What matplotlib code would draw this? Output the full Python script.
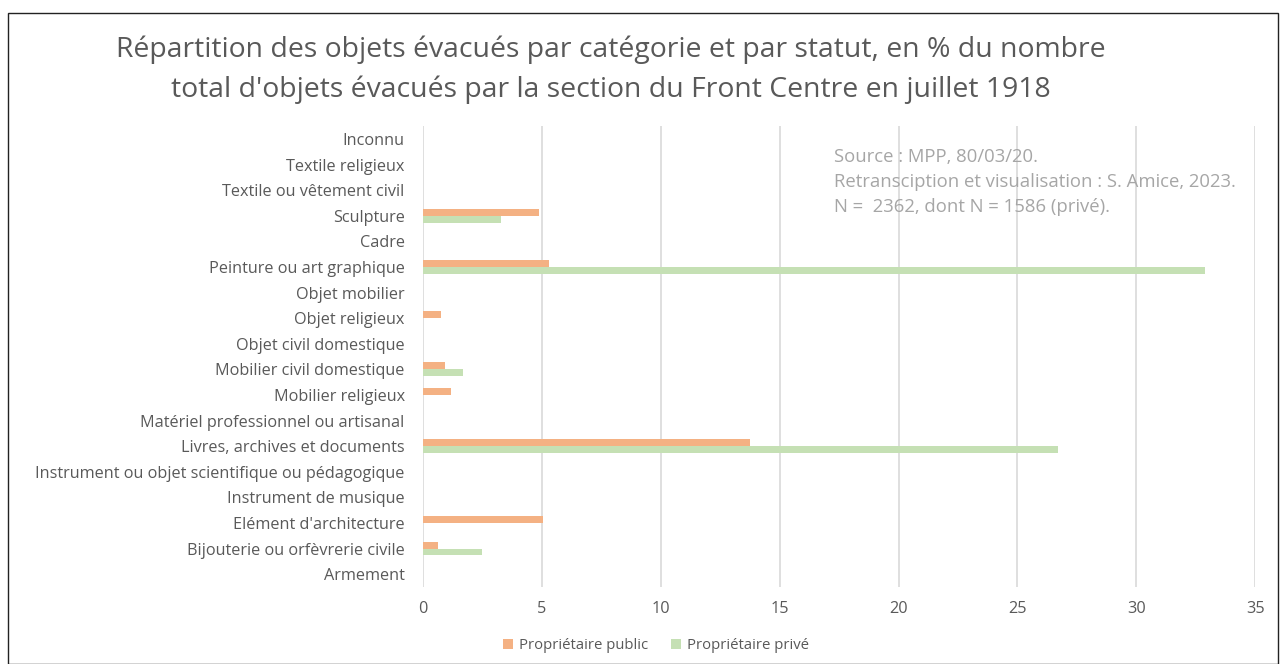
import matplotlib.pyplot as plt
import numpy as np
from matplotlib.patches import Rectangle

plt.rcParams['font.family'] = ['Open Sans', 'DejaVu Sans']

# Categories listed bottom to top, as drawn on the y axis
categories = [
    'Armement',
    'Bijouterie ou orfèvrerie civile',
    "Elément d'architecture",
    'Instrument de musique',
    'Instrument ou objet scientifique ou pédagogique',
    'Livres, archives et documents',
    'Matériel professionnel ou artisanal',
    'Mobilier religieux',
    'Mobilier civil domestique',
    'Objet civil domestique',
    'Objet religieux',
    'Objet mobilier',
    'Peinture ou art graphique',
    'Cadre',
    'Sculpture',
    'Textile ou vêtement civil',
    'Textile religieux',
    'Inconnu',
]
public = [0, 0.63, 5.06, 0, 0, 13.76, 0, 1.18, 0.94, 0, 0.76, 0, 5.31, 0, 4.89, 0, 0, 0]
private = [0, 2.49, 0, 0, 0, 26.7, 0, 0, 1.68, 0, 0, 0, 32.87, 0, 3.31, 0, 0, 0]
xticks = [0, 5, 10, 15, 20, 25, 30, 35]

c_public = '#F4B183'
c_private = '#C5E0B4'
grey = '#595959'

fig = plt.figure(figsize=(12.81, 6.64), dpi=100)
ax = fig.add_axes([0.330, 0.116, 0.650, 0.694])

y = np.arange(len(categories))
h = 0.27
ax.barh(y + h / 2, public, height=h, color=c_public, label='Propriétaire public', zorder=3)
ax.barh(y - h / 2, private, height=h, color=c_private, label='Propriétaire privé', zorder=3)

ax.set_xlim(0, 35)
ax.set_ylim(-0.5, len(categories) - 0.5)
ax.set_xticks(xticks)
ax.set_yticks(y)
ax.set_yticklabels(categories)
ax.tick_params(axis='both', length=0, labelsize=11.7, colors=grey)
ax.tick_params(axis='x', pad=10)
ax.tick_params(axis='y', pad=13)
for s in ax.spines.values():
    s.set_visible(False)
ax.grid(axis='x', color='#d9d9d9', linewidth=1.2, zorder=0)

fig.text(0.477, 0.895, "Répartition des objets évacués par catégorie et par statut, en % du nombre\n"
         "total d'objets évacués par la section du Front Centre en juillet 1918",
         ha='center', va='center', fontsize=20.4, color=grey, linespacing=1.5)

fig.text(0.651, 0.726, "Source : MPP, 80/03/20.\n"
         "Retransciption et visualisation : S. Amice, 2023.\n"
         "N =  2362, dont N = 1586 (privé).",
         ha='left', va='center', fontsize=13.3, color='#a6a6a6', linespacing=1.5)

fig.legend(loc='center', bbox_to_anchor=(0.512, 0.028), ncol=2, frameon=False,
           fontsize=10.7, labelcolor=grey, handlelength=0.7, handleheight=0.7,
           handletextpad=0.4, columnspacing=1.5)

fig.add_artist(Rectangle((8 / 1281, 0), 1270 / 1281, 651 / 664, transform=fig.transFigure,
                         fill=False, edgecolor='#222222', linewidth=1))

fig.savefig('out.png', dpi=100)
